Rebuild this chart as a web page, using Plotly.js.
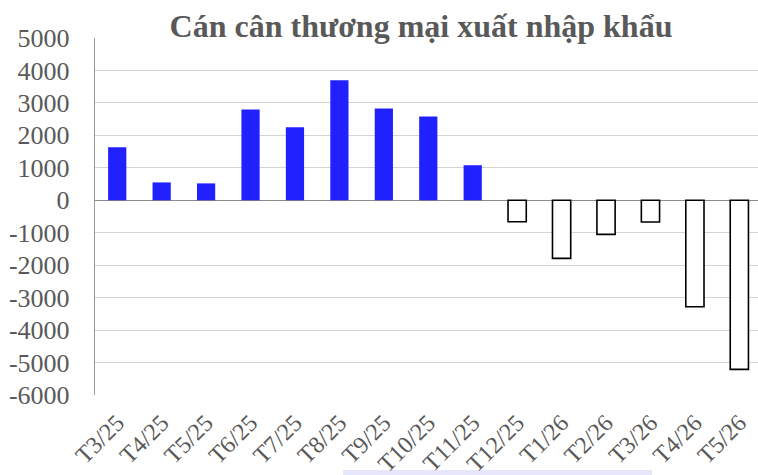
<!DOCTYPE html>
<html>
<head>
<meta charset="utf-8">
<script src="https://cdn.plot.ly/plotly-3.0.1.min.js"></script>
<style>html,body{margin:0;padding:0;background:#fff;}#chart{width:758px;height:475px;}</style>
</head>
<body>
<div id="chart"></div>
<script>
const months = ["T3/25","T4/25","T5/25","T6/25","T7/25","T8/25","T9/25","T10/25","T11/25","T12/25","T1/26","T2/26","T3/26","T4/26","T5/26"];
const balance = [1630, 550, 520, 2800, 2250, 3700, 2830, 2580, 1080, -660, -1790, -1050, -670, -3280, -5210];
const yTicks = [5000, 4000, 3000, 2000, 1000, 0, -1000, -2000, -3000, -4000, -5000, -6000];

const fillColors = balance.map(v => v >= 0 ? '#2121FF' : '#FFFFFF');
const lineColors = balance.map(v => v >= 0 ? '#2121FF' : '#000000');
const lineWidths = balance.map(v => v >= 0 ? 0 : 1.6);

const trace = {
  type: 'bar',
  x: months,
  y: balance,
  marker: {color: fillColors, line: {color: lineColors, width: lineWidths}},
  hoverinfo: 'x+y'
};

const layout = {
  width: 758, height: 475,
  margin: {l: 95, r: 0, t: 38, b: 80},
  paper_bgcolor: '#fff', plot_bgcolor: '#fff',
  showlegend: false,
  bargap: 0.59,
  font: {family: '"Liberation Serif", "Times New Roman", serif', color: '#595959'},
  title: {
    text: '<b>Cán cân thương mại xuất nhập khẩu</b>',
    font: {family: '"Liberation Serif", "Times New Roman", serif', size: 32, color: '#595959'},
    x: 421/758, xref: 'container', xanchor: 'center',
    y: 1 - 26/475, yref: 'container', yanchor: 'middle'
  },
  xaxis: {
    type: 'category',
    range: [-0.5, 14.42],
    tickangle: -45,
    tickfont: {family: '"Liberation Serif", "Times New Roman", serif', size: 24, color: '#595959'},
    showgrid: false,
    showline: false,
    ticks: '',
    ticklabelstandoff: 8,
    fixedrange: true
  },
  yaxis: {
    range: [-6000, 5000],
    tickvals: yTicks,
    ticktext: yTicks.map(String),
    tickfont: {family: '"Liberation Serif", "Times New Roman", serif', size: 26, color: '#595959'},
    showgrid: true,
    gridcolor: '#d4d4d4',
    gridwidth: 1,
    zeroline: true,
    zerolinecolor: '#8c8c8c',
    zerolinewidth: 1.5,
    showline: true,
    linecolor: '#9a9a9a',
    linewidth: 1.2,
    ticks: '',
    ticklabelstandoff: 19,
    fixedrange: true
  },
  shapes: [{
    type: 'rect', xref: 'paper', yref: 'paper', layer: 'below',
    x0: (343-95)/663, x1: (652-95)/663, y0: -0.24, y1: (395-470)/357,
    fillcolor: '#E6E6FA', line: {width: 0}
  }]
};

Plotly.newPlot('chart', [trace], layout, {displayModeBar: false, staticPlot: true});
</script>
</body>
</html>
